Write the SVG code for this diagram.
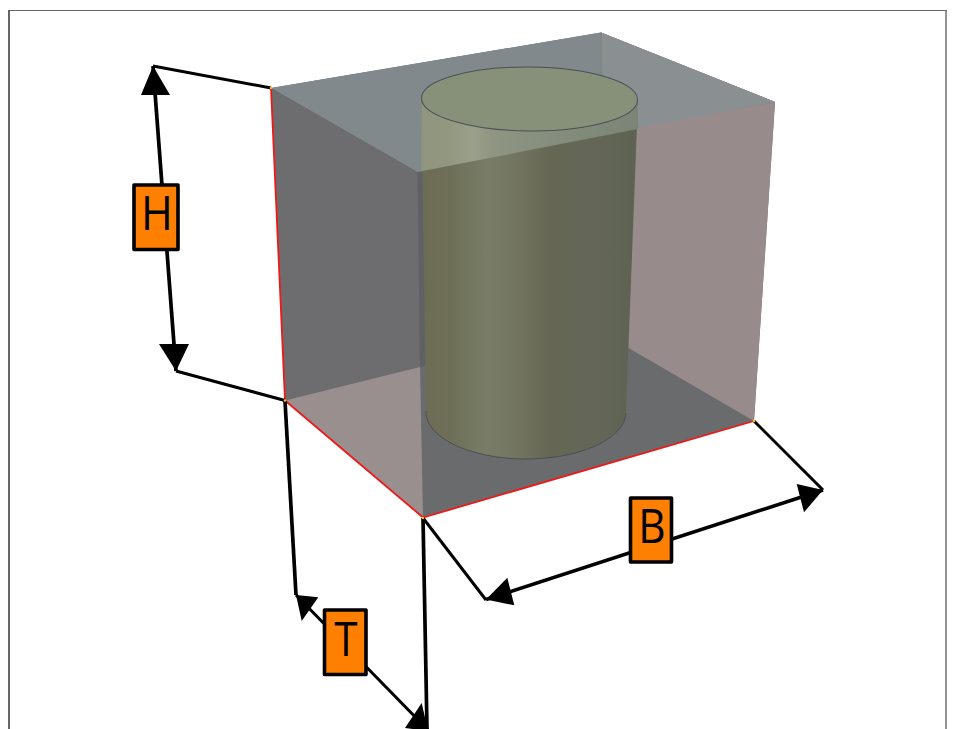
<svg xmlns="http://www.w3.org/2000/svg" width="954" height="729" viewBox="0 0 954 729">
<style>
.ext{fill:none;stroke:#000;stroke-width:3}
.dim{fill:none;stroke:#000;stroke-width:3.7}
.head{fill:#000}
.edge{fill:none;stroke:#f01818;stroke-width:1.8}
.dot{fill:#e8c820}
.box{fill:#ff7f00;stroke:#000;stroke-width:3.6;stroke-linejoin:round}
.lbl{font-family:"Open Sans","Liberation Sans",sans-serif;font-size:47px;fill:#000;text-anchor:middle}
</style>
<defs>
<linearGradient id="cylTop" gradientUnits="userSpaceOnUse" x1="421" x2="638" y1="0" y2="0">
<stop offset="0" stop-color="#90957f"/><stop offset="0.12" stop-color="#92977f"/><stop offset="0.24" stop-color="#9a9f8b"/><stop offset="0.33" stop-color="#8f9582"/><stop offset="0.6" stop-color="#858d7e"/><stop offset="1" stop-color="#7b8476"/>
</linearGradient>
<linearGradient id="cylLow" gradientUnits="userSpaceOnUse" x1="421" x2="638" y1="0" y2="0">
<stop offset="0" stop-color="#6b6c52"/><stop offset="0.15" stop-color="#6f7058"/><stop offset="0.3" stop-color="#797d67"/><stop offset="0.45" stop-color="#72745f"/><stop offset="0.6" stop-color="#656754"/><stop offset="0.8" stop-color="#646757"/><stop offset="1" stop-color="#5e6253"/>
</linearGradient>
</defs>
<rect width="954" height="729" fill="#fff"/>
<path d="M9 10.500H947" fill="none" stroke="#666" stroke-width="1.200"/>
<path d="M9 10V729" fill="none" stroke="#555" stroke-width="1.800"/>
<path d="M946 10V729" fill="none" stroke="#666" stroke-width="1.400"/>
<g id="box">
<path d="M271 88L601 32.500L775 102L754 421L423 517.500L285 400.500Z" fill="#6a6b6d"/>
<path d="M271 88L601 32.500L775 102L417.500 172Z" fill="#81898c"/>
<path d="M601 32.500L775 102L640 128L601 70Z" fill="#8a8f92"/>
<path d="M601 32.500V75" stroke="#7a8083" stroke-width="1" fill="none"/>
<path d="M271 88L417.500 172L420 367L285 400.500Z" fill="#6d6d6f"/>
<path d="M417.500 172L420 367L426 366L423 172Z" fill="#5f6166"/>
<path d="M285 400.500L420 367L423 517.500Z" fill="#9a8f8f"/>
<path d="M630 129L775 102L754 421L620 343Z" fill="#978c8b"/>
</g>
<g id="cylinder">
<path d="M421.500 99L426 412A100 47 0 0 0 626 412L638 99A108 32 0 0 1 421.500 99Z" fill="url(#cylLow)"/>
<path d="M421.500 99V171.200L638 129V99Z" fill="url(#cylTop)"/>
<path d="M426 411A100 47 0 0 0 626 413" fill="none" stroke="#4a4e58" stroke-width="1"/>
<ellipse cx="529.500" cy="99" rx="108" ry="32" transform="rotate(0.5 529.500 99)" fill="#879079" stroke="#4a5058" stroke-width="1"/>
</g>
<g id="edges">
<path class="edge" d="M271 88L285 400.500L423 517.500L754 421"/>
</g>
<g id="connectors">
<path class="ext" d="M271 88L153 66"/>
<path class="ext" d="M285 400.500L176 371"/>
<path class="dim" d="M153 66L176 371"/>
<path class="head" d="M153 66L170 95H141Z"/>
<path class="head" d="M176 371L159 344H189Z"/>
<path class="dim" d="M285 401L296 595"/>
<path class="dim" d="M423 518L427 729"/>
<path class="ext" d="M296 595L428 730"/>
<path class="head" d="M296 595L318.300 597.300L301.700 621Z"/>
<path class="head" d="M428 731L405 728L421.700 703Z"/>
<path class="ext" d="M423 518L486 600"/>
<path class="ext" d="M754 421L823 490"/>
<path class="dim" d="M486 599.500L823 490"/>
<path class="head" d="M823 490L796.700 484L804 512.300Z"/>
<path class="head" d="M486 599.500L507.300 577.700L514.300 605.300Z"/>
</g>
<g id="edge-dots">
<circle class="dot" cx="271" cy="88" r="1.300"/><circle class="dot" cx="285" cy="400.500" r="1.300"/><circle class="dot" cx="423" cy="518" r="1.300"/><circle class="dot" cx="754" cy="421" r="1.300"/>
</g>
<g id="H"><rect class="box" x="134" y="185" width="44" height="64.500"/><text class="lbl" x="157" y="230.500" transform="translate(157 0) scale(.92 1) translate(-157 0)">H</text></g>
<g id="T"><rect class="box" x="324.500" y="610" width="41.500" height="64.500"/><text class="lbl" x="346" y="656" transform="translate(346 0) scale(.9 1) translate(-346 0)">T</text></g>
<g id="B"><rect class="box" x="630.500" y="498" width="41" height="64"/><text class="lbl" x="652" y="543" transform="translate(652 0) scale(.9 1) translate(-652 0)">B</text></g>
</svg>
